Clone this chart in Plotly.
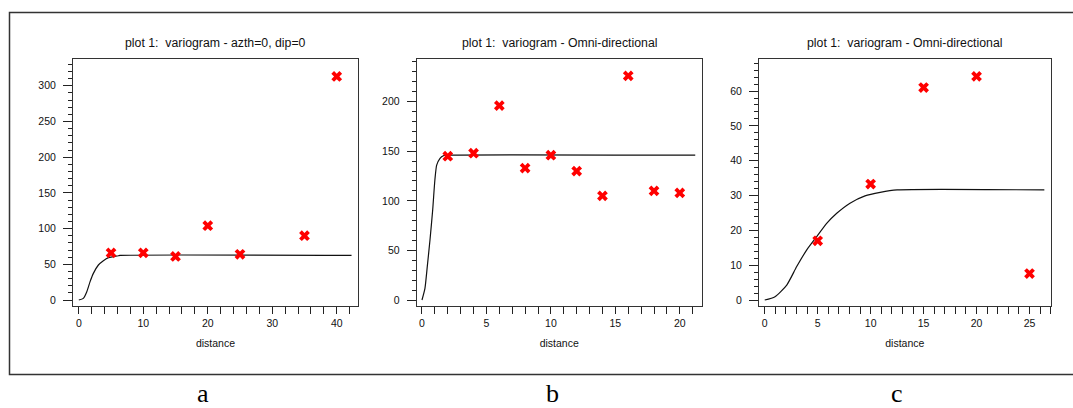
import plotly.graph_objects as go

W, H = 1073, 408

# ---- data ----
titles = ["plot 1:  variogram - azth=0, dip=0",
          "plot 1:  variogram - Omni-directional",
          "plot 1:  variogram - Omni-directional"]
panel_labels = ["a", "b", "c"]

# experimental variogram points
a_dist = [5, 10, 15, 20, 25, 35, 40]
a_gamma = [66, 66, 61, 104, 64, 90, 313]
b_dist = [2, 4, 6, 8, 10, 12, 14, 16, 18, 20]
b_gamma = [145, 148, 196, 133, 146, 130, 105, 226, 110, 108]
c_dist = [5, 10, 15, 20, 25]
c_gamma = [17, 33.3, 61, 64.2, 7.6]

# model curves
a_model_x = [0, 0.7, 1.24, 1.75, 2.26, 3.04, 3.81, 4.59, 5.36, 6.14, 6.4, 42.3]
a_model_y = [0, 2.3, 11.7, 25.7, 37.3, 49, 55, 59.3, 60.7, 62, 62.5, 62.5]
b_model_x = [0, 0.23, 0.41, 0.62, 0.83, 1.0, 1.14, 1.4, 1.66, 1.9, 21.2]
b_model_y = [0, 11.8, 33.6, 60.5, 90.8, 121, 136, 142.9, 145.5, 146, 146]
c_model_x = [0, 0.97, 2.08, 3.02, 3.97, 4.91, 5.85, 6.8, 8.05, 9.47, 10.9, 12.5, 26.4]
c_model_y = [0, 0.96, 4.3, 9.6, 14.4, 18.2, 22, 24.9, 27.8, 29.9, 30.9, 31.6, 31.6]

# ---- layout geometry (pixels) ----
box_x = [(73, 358), (416.7, 701.7), (759, 1050.7)]
box_y = (59, 306)
x_ranges = [[-0.9, 43.3], [-0.41, 21.7], [-0.54, 27.0]]
y_ranges = [[-8.4, 337.5], [-6.05, 243], [-1.72, 69.2]]
x_dticks = [(10, 2), (5, 1), (5, 1)]
y_dticks = [(50, 10), (50, 10), (10, 2)]

pts = [(a_dist, a_gamma), (b_dist, b_gamma), (c_dist, c_gamma)]
models = [(a_model_x, a_model_y), (b_model_x, b_model_y), (c_model_x, c_model_y)]

FONT = "Liberation Sans, Arial, sans-serif"
TXT = "#111"
fig = go.Figure()
layout = dict(width=W, height=H, margin=dict(l=0, r=0, t=0, b=0),
              paper_bgcolor="white", plot_bgcolor="white", showlegend=False,
              font=dict(family=FONT, size=10.5, color=TXT))
annotations = []
shapes = []

for i in range(3):
    xs = "" if i == 0 else str(i + 1)
    xa, ya = "x" + xs, "y" + xs
    mx, my = models[i]
    fig.add_trace(go.Scatter(x=mx, y=my, mode="lines",
                             line=dict(color="#111", width=1.2, shape="spline", smoothing=0.6),
                             xaxis=xa, yaxis=ya, hoverinfo="skip"))
    px_, py_ = pts[i]
    fig.add_trace(go.Scatter(x=px_, y=py_, mode="markers",
                             marker=dict(symbol="x", size=9.5, color="#ff0000", line=dict(width=0)),
                             xaxis=xa, yaxis=ya))
    x0, x1 = box_x[i]
    dom_x = [x0 / W, x1 / W]
    dom_y = [1 - box_y[1] / H, 1 - box_y[0] / H]
    layout["xaxis" + xs] = dict(domain=dom_x, range=x_ranges[i], anchor=ya,
                                showline=True, linecolor="#333", linewidth=1, mirror=True,
                                showgrid=False, zeroline=False,
                                ticks="outside", ticklen=7, tickcolor="#222", tickwidth=1,
                                dtick=x_dticks[i][0], tick0=0,
                                minor=dict(dtick=x_dticks[i][1], tick0=0, ticks="outside",
                                           ticklen=7, tickcolor="#222"),
                                tickfont=dict(size=10.5, color=TXT),
                                title=dict(text="distance", font=dict(size=10.5, color=TXT), standoff=12))
    layout["yaxis" + xs] = dict(domain=dom_y, range=y_ranges[i], anchor=xa,
                                showline=True, linecolor="#333", linewidth=1, mirror=True,
                                showgrid=False, zeroline=False,
                                ticks="outside", ticklen=9, tickcolor="#222", tickwidth=1,
                                dtick=y_dticks[i][0], tick0=0,
                                minor=dict(dtick=y_dticks[i][1], tick0=0, ticks="outside",
                                           ticklen=4, tickcolor="#222"),
                                tickfont=dict(size=10.5, color=TXT), ticklabelstandoff=5)
    cx = (x0 + x1) / 2 / W
    annotations.append(dict(text=titles[i], x=cx, y=1 - 43 / H, xref="paper", yref="paper",
                            xanchor="center", yanchor="middle", showarrow=False,
                            font=dict(family=FONT, size=12.3, color=TXT)))

label_x = [203, 552, 897]
for i in range(3):
    annotations.append(dict(text=panel_labels[i], x=label_x[i] / W, y=1 - 393 / H,
                            xref="paper", yref="paper",
                            xanchor="center", yanchor="middle", showarrow=False,
                            font=dict(family="Liberation Serif, Times New Roman, serif",
                                      size=26, color="black")))

# outer frame (right side runs off the image)
shapes.append(dict(type="rect", xref="paper", yref="paper",
                   x0=9.5 / W, x1=1.01, y0=1 - 374.5 / H, y1=1 - 12.5 / H,
                   line=dict(color="#333", width=1.5), fillcolor="rgba(0,0,0,0)"))

layout["annotations"] = annotations
layout["shapes"] = shapes
fig.update_layout(**layout)
fig.write_html("out.html", config={"displayModeBar": False},
               post_script="document.body.style.margin='0';document.body.style.overflow='hidden';")
